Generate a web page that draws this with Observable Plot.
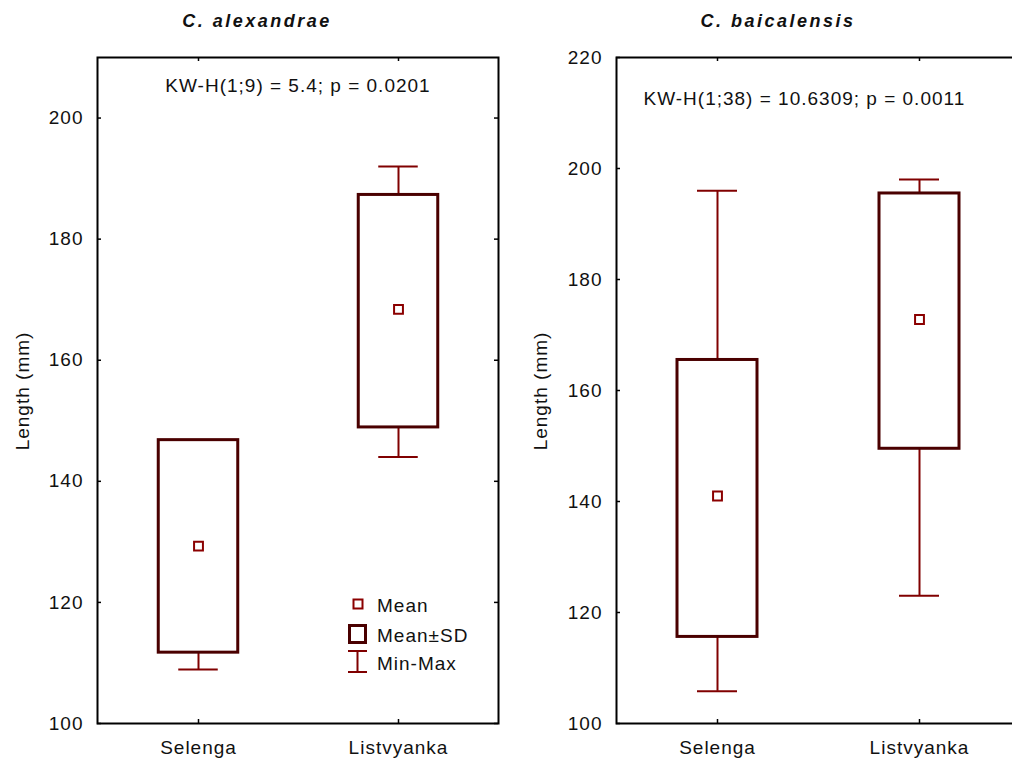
<!DOCTYPE html>
<html>
<head>
<meta charset="utf-8">
<script src="https://cdn.jsdelivr.net/npm/d3@7"></script>
<script src="https://cdn.jsdelivr.net/npm/@observablehq/plot@0.6"></script>
<style>
  html, body { margin: 0; padding: 0; background: #fff; }
  body { width: 1012px; height: 765px; overflow: hidden; position: relative;
         font-family: "Liberation Sans", Arial, sans-serif; }
  .panel { position: absolute; top: 0; }
  .panel svg { max-width: none !important; display: block; }
  #overlay { position: absolute; left: 0; top: 0; pointer-events: none; }
</style>
</head>
<body>
<div id="left" class="panel" style="left:0px;width:505px"></div>
<div id="right" class="panel" style="left:505px;width:516px"></div>
<svg id="overlay" width="1012" height="765"></svg>
<script>
// ---- data ----
const sites = ["Selenga", "Listvyanka"];

const alexTitle = "C. alexandrae";
const alexNote = "KW-H(1;9) = 5.4; p = 0.0201";
const alexMean = [129.3, 168.4];
const alexLow  = [111.7, 148.9];   // mean - SD
const alexHigh = [146.8, 187.3];   // mean + SD
const alexMin  = [108.9, 144.0];
const alexMax  = [146.8, 192.0];
const alexTicks = [100, 120, 140, 160, 180, 200];
const alexDomain = [100, 210];

const baiTitle = "C. baicalensis";
const baiNote = "KW-H(1;38) = 10.6309; p = 0.0011";
const baiMean = [141.0, 172.8];
const baiLow  = [115.6, 149.5];
const baiHigh = [165.5, 195.5];
const baiMin  = [105.8, 123.0];
const baiMax  = [196.0, 198.0];
const baiTicks = [100, 120, 140, 160, 180, 200, 220];
const baiDomain = [100, 220];

const yLabel = "Length (mm)";
const legendLabels = ["Mean", "Mean±SD", "Min-Max"];

// ---- styles ----
const BOX = "#4a0000";
const WHISK = "#800000";
const MEAN = "#8b0000";
const FONT = "'Liberation Sans', Arial, sans-serif";

function rowsOf(mean, low, high, min, max) {
  return sites.map((s, i) => ({site: s, mean: mean[i], low: low[i], high: high[i], min: min[i], max: max[i]}));
}

function panel({width, mL, mR, rows, ticks, domain, note, noteOpts}) {
  const mT = 57, mB = 42, height = 765;
  const fw = width - mL - mR, fh = height - mT - mB;
  const bw = fw / sites.length;
  const boxInset = (bw - 80) / 2;
  const capInset = (bw - 40) / 2;
  return Plot.plot({
    width, height,
    marginLeft: mL, marginRight: mR, marginTop: mT, marginBottom: mB,
    style: {fontFamily: FONT, fontSize: "19px", letterSpacing: "1px", color: "#111", background: "transparent"},
    x: {domain: sites, type: "band", padding: 0},
    y: {domain, ticks},
    marks: [
      Plot.ruleX(rows, {x: "site", y1: "high", y2: "max", stroke: WHISK, strokeWidth: 2}),
      Plot.ruleX(rows, {x: "site", y1: "min", y2: "low", stroke: WHISK, strokeWidth: 2}),
      Plot.tickY(rows, {x: "site", y: "max", stroke: WHISK, strokeWidth: 2, insetLeft: capInset, insetRight: capInset}),
      Plot.tickY(rows, {x: "site", y: "min", stroke: WHISK, strokeWidth: 2, insetLeft: capInset, insetRight: capInset}),
      Plot.barY(rows, {x: "site", y1: "low", y2: "high", fill: "white", stroke: BOX, strokeWidth: 3, insetLeft: boxInset, insetRight: boxInset}),
      Plot.dot(rows, {x: "site", y: "mean", symbol: "square", r: 5, fill: "white", stroke: MEAN, strokeWidth: 2}),
      // inward ticks on all four sides
      Plot.ruleY(ticks, {y: d => d, insetRight: fw - 4, stroke: "#000", strokeWidth: 1.5}),
      Plot.ruleY(ticks, {y: d => d, insetLeft: fw - 4, stroke: "#000", strokeWidth: 1.5}),
      Plot.ruleX(sites, {x: d => d, insetTop: fh - 4, stroke: "#000", strokeWidth: 1.5}),
      Plot.ruleX(sites, {x: d => d, insetBottom: fh - 4, stroke: "#000", strokeWidth: 1.5}),
      Plot.frame({stroke: "#000", strokeWidth: 2}),
      Plot.axisY({ticks, tickSize: 0, tickPadding: 14, label: null}),
      Plot.axisX({tickSize: 0, tickPadding: 17, label: null}),
      Plot.text([note], {text: d => d, fill: "#111", lineAnchor: "bottom", ...noteOpts})
    ]
  });
}

document.getElementById("left").append(panel({
  width: 505, mL: 97, mR: 7,
  rows: rowsOf(alexMean, alexLow, alexHigh, alexMin, alexMax),
  ticks: alexTicks, domain: alexDomain, note: alexNote,
  noteOpts: {frameAnchor: "top", dy: 34}
}));

document.getElementById("right").append(panel({
  width: 516, mL: 111, mR: 1,
  rows: rowsOf(baiMean, baiLow, baiHigh, baiMin, baiMax),
  ticks: baiTicks, domain: baiDomain, note: baiNote,
  noteOpts: {frameAnchor: "top-left", textAnchor: "start", dx: 27, dy: 47}
}));

// ---- overlay: titles, y labels, legend ----
const ov = d3.select("#overlay").style("font-family", FONT);
ov.append("text").attr("x", 257).attr("y", 27).attr("text-anchor", "middle")
  .attr("font-size", 18).attr("font-weight", "bold").attr("font-style", "italic")
  .attr("letter-spacing", "2.5px").attr("fill", "#111").text(alexTitle);
ov.append("text").attr("x", 778).attr("y", 27).attr("text-anchor", "middle")
  .attr("font-size", 18).attr("font-weight", "bold").attr("font-style", "italic")
  .attr("letter-spacing", "2.5px").attr("fill", "#111").text(baiTitle);

[[29, 391], [547, 391]].forEach(([x, y]) => {
  ov.append("text").attr("transform", `translate(${x},${y}) rotate(-90)`)
    .attr("text-anchor", "middle").attr("font-size", 19).attr("letter-spacing", "1px")
    .attr("fill", "#111").text(yLabel);
});

const lg = ov.append("g");
lg.append("rect").attr("x", 353.5).attr("y", 599.5).attr("width", 9).attr("height", 9)
  .attr("fill", "white").attr("stroke", MEAN).attr("stroke-width", 2);
lg.append("rect").attr("x", 349.5).attr("y", 625.5).attr("width", 16).attr("height", 17)
  .attr("fill", "white").attr("stroke", BOX).attr("stroke-width", 3);
lg.append("path").attr("d", "M348,651H367M357.5,651V672M348,672H367")
  .attr("fill", "none").attr("stroke", WHISK).attr("stroke-width", 2);
[612, 642, 670].forEach((y, i) => {
  lg.append("text").attr("x", 377).attr("y", y).attr("font-size", 19)
    .attr("letter-spacing", "1px").attr("fill", "#111").text(legendLabels[i]);
});
</script>
</body>
</html>
